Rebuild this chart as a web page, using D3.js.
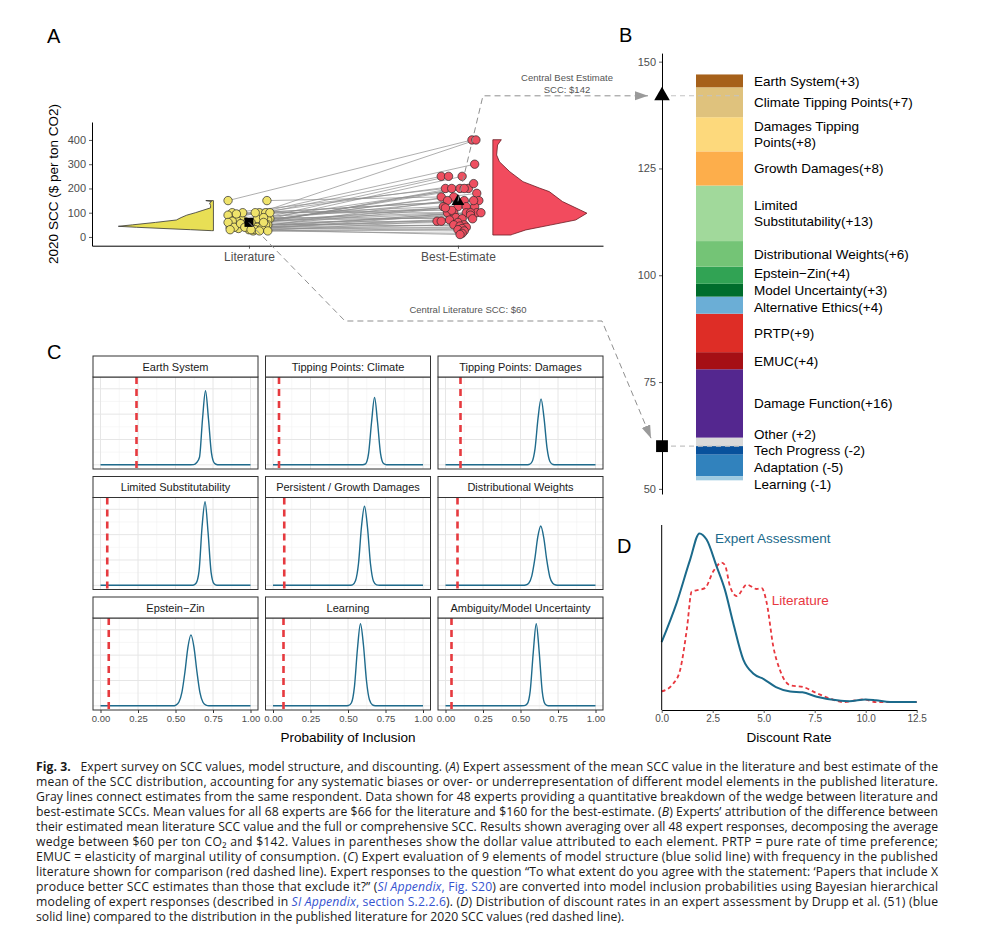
<!DOCTYPE html>
<html><head><meta charset="utf-8">
<script src="https://cdn.jsdelivr.net/npm/d3@7"></script>
<style>body{margin:0;background:#fff} svg{display:block}</style>
</head><body>
<svg id="fig" width="1002" height="940"></svg>
<script>
// ================= DATA =================
// Panel A: 48 experts, literature vs best-estimate SCC ($/tCO2)
const panelACategories = ["Literature", "Best-Estimate"];
const panelATicks = [0, 100, 200, 300, 400];
const litValues = [150,100,80,100,60,75,100,50,60,40,75,90,70,150,55,100,65,45,90,60,50,80,100,70,40,60,30,45,100,50,65,40,80,35,60,25,50,40,30,55,35,25,40,30,25,30,95,60];
const bestValues = [400,400,300,250,250,250,200,200,200,200,200,220,180,165,165,150,150,150,125,125,125,125,100,100,100,100,100,100,110,90,80,75,75,70,65,65,60,50,50,45,40,35,30,25,15,10,150,120];
const litJitter = [-0.10,0.05,-0.06,0.08,-0.03,0.10,-0.08,0.02,0.06,-0.09,0.04,-0.05,0.09,0.086,-0.07,0.03,-0.02,0.07,-0.10,0.01,0.08,-0.04,0.10,-0.06,0.05,-0.09,0.00,0.06,-0.03,0.09,-0.08,0.04,0.07,-0.05,-0.10,0.02,0.08,-0.07,0.03,-0.04,0.06,0.09,-0.02,-0.09,0.05,0.01,-0.06,0.07];
const bestJitter = [0.067,0.086,0.08,-0.08,-0.045,0.02,-0.06,-0.03,0.01,0.05,0.03,0.075,0.09,-0.08,-0.02,0.10,0.03,-0.05,-0.07,0.00,0.04,0.08,-0.05,-0.02,0.04,0.09,0.11,0.06,-0.03,0.06,-0.01,0.02,0.07,-0.04,-0.10,-0.08,0.00,0.03,-0.02,0.01,0.04,0.02,0.00,0.03,0.02,0.01,0.075,-0.06];
const panelAMeans = [60, 147];
const litViolinAt = [26,30,35,40,44,50,60,70,80,90,100,110,120,130,140,146,150];
const litViolinDensity = [0.02,0.24,0.53,0.81,1.0,0.85,0.61,0.39,0.34,0.28,0.19,0.11,0.03,0.03,0.04,0.02,0.08];
const bestViolinAt = [8,11,29,49,70,98,111,146,187,201,228,269,310,338,379,401];
const bestViolinDensity = [0.19,0.21,0.35,0.61,0.88,1.0,0.93,0.74,0.60,0.50,0.32,0.18,0.07,0.04,0.05,0.09];
const centralValues = [60, 142];

// Panel B: decomposition of the wedge (stacking order outward from $60)
const bLabels = ["Other (+2)","Damage Function(+16)","EMUC(+4)","PRTP(+9)","Alternative Ethics(+4)","Model Uncertainty(+3)","Epstein\u2212Zin(+4)","Distributional Weights(+6)","Limited\nSubstitutability(+13)","Growth Damages(+8)","Damages Tipping\nPoints(+8)","Climate Tipping Points(+7)","Earth System(+3)","Tech Progress (-2)","Adaptation (-5)","Learning (-1)"];
const bValues = [2,16,4,9,4,3,4,6,13,8,8,7,3,-2,-5,-1];
const bColors = ["#d9d9d9","#54278f","#a50f15","#de2d26","#6baed6","#006d2c","#31a354","#74c476","#a1d99b","#fdae4b","#fdd97c","#dfc27d","#a6611a","#08519c","#3182bd","#9ecae1"];
const bTicks = [50, 75, 100, 125, 150];

// Panel C: model inclusion probabilities
const cPanels = ["Earth System","Tipping Points: Climate","Tipping Points: Damages","Limited Substitutability","Persistent / Growth Damages","Distributional Weights","Epstein\u2212Zin","Learning","Ambiguity/Model Uncertainty"];
const cLiterature = [0.24,0.04,0.10,0.045,0.075,0.08,0.055,0.07,0.04];
const cPeakAt = [0.700,0.677,0.637,0.697,0.610,0.635,0.603,0.583,0.605];
const cOffsets = [-0.12,-0.10,-0.08,-0.06,-0.04,-0.02,0,0.02,0.04,0.06,0.08,0.10,0.12];
const cDensity = [
  [0,0,0.03,0.4,1.5,9.0,14.6,9.0,2.3,0.3,0.02,0,0],
  [0,0,0.01,0.2,2.2,8.4,13.3,8.4,2.2,0.25,0.01,0,0],
  [0,0,0.05,0.6,3.2,9.2,13.0,9.2,3.3,0.6,0.06,0,0],
  [0,0,0.02,0.4,2.8,11.5,16.5,10.5,2.6,0.3,0.02,0,0],
  [0,0,0.1,0.9,4.3,11.6,15.6,11.4,4.2,0.8,0.08,0,0],
  [0,0.07,0.4,1.8,5.1,9.5,11.7,9.4,5.0,1.7,0.4,0.06,0],
  [0,0.15,0.75,2.7,6.7,11.6,14.0,11.6,6.7,2.6,0.7,0.13,0.01],
  [0,0,0.05,0.6,3.8,11.2,16.2,12.0,5.0,1.2,0.2,0.02,0],
  [0,0,0.03,0.4,3.0,10.5,16.2,10.5,2.8,0.3,0.02,0,0]
];
const cTicks = [0, 0.25, 0.5, 0.75, 1];

// Panel D: discount-rate distributions
const dExpertRate = [0,0.73,1.39,1.85,2.2,2.7,3.1,3.5,4.0,4.5,5.0,5.6,6.3,6.9,7.6,8.6,9.2,10.0,10.5,11.2,12.5];
const dExpertDensity = [0.077,0.121,0.170,0.200,0.193,0.162,0.136,0.099,0.057,0.041,0.035,0.026,0.021,0.020,0.015,0.011,0.010,0.012,0.011,0.009,0.009];
const dLitRate = [0,0.57,0.9,1.23,1.47,1.8,2.12,2.53,2.94,3.1,3.35,3.68,4.17,4.66,4.9,5.15,5.47,5.8,6.3,6.94,7.6,8.25,8.9,9.9,10.5,12.5];
const dLitDensity = [0.021,0.030,0.045,0.091,0.134,0.136,0.138,0.157,0.167,0.164,0.140,0.129,0.142,0.137,0.138,0.121,0.072,0.045,0.028,0.026,0.019,0.013,0.009,0.012,0.009,0.009];
const dTicks = [0, 2.5, 5, 7.5, 10, 12.5];
const dSeriesNames = ["Expert Assessment", "Literature"];

// Caption
const captionLines = [
  [["Fig. 3.","b"],["   Expert survey on SCC values, model structure, and discounting. (",""],["A","i"],[") Expert assessment of the mean SCC value in the literature and best estimate of the",""]],
  [["mean of the SCC distribution, accounting for any systematic biases or over- or underrepresentation of different model elements in the published literature.",""]],
  [["Gray lines connect estimates from the same respondent. Data shown for 48 experts providing a quantitative breakdown of the wedge between literature and",""]],
  [["best-estimate SCCs. Mean values for all 68 experts are $66 for the literature and $160 for the best-estimate. (",""],["B","i"],[") Experts\u2019 attribution of the difference between",""]],
  [["their estimated mean literature SCC value and the full or comprehensive SCC. Results shown averaging over all 48 expert responses, decomposing the average",""]],
  [["wedge between $60 per ton CO\u2082 and $142. Values in parentheses show the dollar value attributed to each element. PRTP = pure rate of time preference;",""]],
  [["EMUC = elasticity of marginal utility of consumption. (",""],["C","i"],[") Expert evaluation of 9 elements of model structure (blue solid line) with frequency in the published",""]],
  [["literature shown for comparison (red dashed line). Expert responses to the question \u201CTo what extent do you agree with the statement: \u2018Papers that include X",""]],
  [["produce better SCC estimates than those that exclude it?\u201D (",""],["SI Appendix","linki"],[", Fig. S20","link"],[") are converted into model inclusion probabilities using Bayesian hierarchical",""]],
  [["modeling of expert responses (described in ",""],["SI Appendix","linki"],[", section S.2.2.6","link"],["). (",""],["D","i"],[") Distribution of discount rates in an expert assessment by Drupp et al. (51) (blue",""]],
  [["solid line) compared to the distribution in the published literature for 2020 SCC values (red dashed line).",""]]
];

// ================= DRAWING =================
const FONT = "'Liberation Sans', Arial, Helvetica, sans-serif";
const svg = d3.select("#fig").style("font-family", FONT);
const GRAYTXT = "#4d4d4d";

function styleAxis(g, fs) {
  g.select(".domain").attr("stroke", "#000").attr("stroke-width", 1);
  g.selectAll(".tick line").attr("stroke", "#333").attr("stroke-width", 0.8);
  g.selectAll(".tick text").attr("fill", GRAYTXT).style("font-size", fs + "px").style("font-family", FONT);
}

// arrow marker
svg.append("defs").append("marker")
  .attr("id", "arr").attr("markerUnits", "userSpaceOnUse")
  .attr("markerWidth", 14).attr("markerHeight", 10)
  .attr("refX", 13).attr("refY", 4.5).attr("orient", "auto")
  .append("path").attr("d", "M0,0 L13,4.5 L0,9 Z").attr("fill", "#9a9a9a");

// Panel letters
[["A",47,43],["B",619,42],["C",47,359],["D",617,553]].forEach(([t,x,y]) =>
  svg.append("text").attr("x", x).attr("y", y).text(t).style("font-size", "20px").attr("fill", "#000"));

// ---------- Panel A ----------
const xA = d3.scaleLinear().domain([0.249, 2.694]).range([92, 603]);
const yA = d3.scaleLinear().domain([-36, 474]).range([245.7, 122]);
const gA = svg.append("g");

const violinLine = d3.line().x(p => xA(p[0])).y(p => yA(p[1]));
function violinPath(at, dens, flat, maxW, dir) {
  const pts = [[flat, at[at.length - 1]], [flat, at[0]]];
  at.forEach((v, i) => pts.push([flat + dir * maxW * dens[i], v]));
  pts.push([flat, at[at.length - 1]]);
  return violinLine(pts) + "Z";
}
gA.append("path").attr("d", violinPath(litViolinAt, litViolinDensity, 0.83, 0.455, -1))
  .attr("fill", "#e8df55").attr("stroke", "#333").attr("stroke-width", 0.8);
gA.append("path").attr("d", violinPath(bestViolinAt, bestViolinDensity, 2.167, 0.45, 1))
  .attr("fill", "#f24b5e").attr("stroke", "#6b1a22").attr("stroke-width", 0.8);

litValues.forEach((v, i) => {
  gA.append("line")
    .attr("x1", xA(1 + litJitter[i])).attr("y1", yA(v))
    .attr("x2", xA(2 + bestJitter[i])).attr("y2", yA(bestValues[i]))
    .attr("stroke", "#8c8c8c").attr("stroke-width", 0.7);
});
litValues.forEach((v, i) => gA.append("circle").attr("cx", xA(1 + litJitter[i])).attr("cy", yA(v)).attr("r", 4.2)
  .attr("fill", "#efe36b").attr("stroke", "#2a2a2a").attr("stroke-width", 0.7));
bestValues.forEach((v, i) => gA.append("circle").attr("cx", xA(2 + bestJitter[i])).attr("cy", yA(v)).attr("r", 4.2)
  .attr("fill", "#ee4f60").attr("stroke", "#2a2a2a").attr("stroke-width", 0.7));

gA.append("path").attr("d", d3.symbol(d3.symbolSquare, 80)())
  .attr("transform", `translate(${xA(1)},${yA(panelAMeans[0])})`).attr("fill", "#000");
gA.append("path").attr("d", d3.symbol(d3.symbolTriangle, 70)())
  .attr("transform", `translate(${xA(2)},${yA(panelAMeans[1])})`).attr("fill", "#000");

const axAy = gA.append("g").attr("transform", "translate(92,0)")
  .call(d3.axisLeft(yA).tickValues(panelATicks).tickSize(3).tickSizeOuter(0).tickPadding(3));
styleAxis(axAy, 11);
const axAx = gA.append("g").attr("transform", "translate(0,245.7)")
  .call(d3.axisBottom(xA).tickValues([1, 2]).tickFormat((d, i) => panelACategories[i]).tickSize(3).tickSizeOuter(0).tickPadding(4));
styleAxis(axAx, 12);
gA.append("text").attr("transform", "translate(58,184) rotate(-90)").attr("text-anchor", "middle")
  .style("font-size", "13.5px").attr("fill", "#000").text("2020 SCC ($ per ton CO2)");

// ---------- Panel B ----------
const yB = d3.scaleLinear().domain([48.8, 152]).range([494, 53.1]);
const gB = svg.append("g");
let pos = 60, neg = 60;
const segs = bValues.map((v, i) => {
  let lo, hi;
  if (v >= 0) { lo = pos; hi = pos + v; pos = hi; } else { hi = neg; lo = neg + v; neg = lo; }
  return { lo, hi, label: bLabels[i], color: bColors[i] };
});
gB.selectAll("rect.seg").data(segs).enter().append("rect")
  .attr("x", 696).attr("width", 47)
  .attr("y", d => yB(d.hi)).attr("height", d => yB(d.lo) - yB(d.hi))
  .attr("fill", d => d.color);

const axB = gB.append("g").attr("transform", "translate(662,0)")
  .call(d3.axisLeft(yB).tickValues(bTicks).tickSize(3).tickSizeOuter(0).tickPadding(3));
styleAxis(axB, 11);

centralValues.forEach(v => gB.append("line").attr("x1", 662).attr("x2", 743)
  .attr("y1", yB(v)).attr("y2", yB(v)).attr("stroke", "#c4c4c4").attr("stroke-width", 1.1).attr("stroke-dasharray", "5,4"));
gB.append("path").attr("d", d3.symbol(d3.symbolTriangle, 105)())
  .attr("transform", `translate(662,${yB(centralValues[1])})`).attr("fill", "#000");
gB.append("path").attr("d", d3.symbol(d3.symbolSquare, 140)())
  .attr("transform", `translate(662,${yB(centralValues[0])})`).attr("fill", "#000");

// labels with simple repel
const LH = 15.5;
const labs = segs.map(s => {
  const lines = s.label.split("\n");
  return { lines, y: yB((s.lo + s.hi) / 2), half: lines.length === 1 ? 8.3 : 15.8 };
}).sort((a, b) => a.y - b.y);
for (let it = 0; it < 300; it++) {
  for (let i = 1; i < labs.length; i++) {
    const need = labs[i - 1].half + labs[i].half;
    const gap = labs[i].y - labs[i - 1].y;
    if (gap < need) { const s = (need - gap) / 2; labs[i - 1].y -= s; labs[i].y += s; }
  }
}
labs.forEach(l => {
  const t = gB.append("text").attr("x", 754).style("font-size", "13.5px").attr("fill", "#000");
  const y0 = l.y - (l.lines.length - 1) * LH / 2 + 4.8;
  l.lines.forEach((ln, k) => t.append("tspan").attr("x", 754).attr("y", y0 + k * LH).text(ln));
});

// ---------- Connectors between A and B ----------
const gConn = svg.append("g");
const dashStyle = sel => sel.attr("fill", "none").attr("stroke", "#8f8f8f").attr("stroke-width", 1).attr("stroke-dasharray", "6,4");
gConn.append("path").call(dashStyle).attr("marker-end", "url(#arr)")
  .attr("d", `M${xA(2)},${yA(panelAMeans[1])} L${xA(2) + 25},${yB(centralValues[1])} L648,${yB(centralValues[1])}`);
gConn.append("path").call(dashStyle).attr("marker-end", "url(#arr)")
  .attr("d", `M${xA(1)},${yA(panelAMeans[0])} L345,321 L602,321 L651,${yB(centralValues[0]) - 8}`);
const annot = (t, x, y) => gConn.append("text").attr("x", x).attr("y", y).attr("text-anchor", "middle")
  .style("font-size", "9.5px").attr("fill", "#555").text(t);
annot("Central Best Estimate", 567, 81);
annot("SCC: $" + centralValues[1], 567, 93);
annot("Central Literature SCC: $" + centralValues[0], 468, 313);

// ---------- Panel C ----------
const gC = svg.append("g");
const colX = [93, 265.5, 438], rowY = [356, 476.5, 597];
const PW = 165, SH = 21, PH = 92;
const cLine = d3.line().curve(d3.curveMonotoneX);
cPanels.forEach((name, k) => {
  const r = Math.floor(k / 3), c = k % 3;
  const x0 = colX[c], top = rowY[r], pTop = top + SH, pBot = pTop + PH;
  const xs = d3.scaleLinear().domain([-0.05, 1.05]).range([x0, x0 + PW]);
  const ys = d3.scaleLinear().domain([-0.825, 17.325]).range([pBot, pTop]);
  const g = gC.append("g");
  g.append("rect").attr("x", x0).attr("y", pTop).attr("width", PW).attr("height", PH).attr("fill", "#fff");
  // minor grid
  [0.125, 0.375, 0.625, 0.875].forEach(v => g.append("line").attr("x1", xs(v)).attr("x2", xs(v)).attr("y1", pTop).attr("y2", pBot).attr("stroke", "#f2f2f2").attr("stroke-width", 0.6));
  [2.5, 7.5, 12.5].forEach(v => g.append("line").attr("x1", x0).attr("x2", x0 + PW).attr("y1", ys(v)).attr("y2", ys(v)).attr("stroke", "#f2f2f2").attr("stroke-width", 0.6));
  // major grid
  cTicks.forEach(v => g.append("line").attr("x1", xs(v)).attr("x2", xs(v)).attr("y1", pTop).attr("y2", pBot).attr("stroke", "#e6e6e6").attr("stroke-width", 1));
  [0, 5, 10, 15].forEach(v => g.append("line").attr("x1", x0).attr("x2", x0 + PW).attr("y1", ys(v)).attr("y2", ys(v)).attr("stroke", "#e6e6e6").attr("stroke-width", 1));
  // density curve
  const pts = [[0, 0]].concat(cOffsets.map((o, i) => [cPeakAt[k] + o, cDensity[k][i]])).concat([[1, 0]]);
  g.append("path").attr("d", cLine(pts.map(p => [xs(p[0]), ys(p[1])])))
    .attr("fill", "none").attr("stroke", "#1f6b8c").attr("stroke-width", 1.4);
  // literature line
  g.append("line").attr("x1", xs(cLiterature[k])).attr("x2", xs(cLiterature[k])).attr("y1", pTop).attr("y2", pBot)
    .attr("stroke", "#e63a3f").attr("stroke-width", 2.6).attr("stroke-dasharray", "7,5");
  // border
  g.append("rect").attr("x", x0).attr("y", pTop).attr("width", PW).attr("height", PH).attr("fill", "none").attr("stroke", "#333").attr("stroke-width", 1);
  // strip
  g.append("rect").attr("x", x0).attr("y", top).attr("width", PW).attr("height", SH).attr("fill", "#fff").attr("stroke", "#333").attr("stroke-width", 1);
  g.append("text").attr("x", x0 + PW / 2).attr("y", top + 14.7).attr("text-anchor", "middle")
    .style("font-size", "11px").attr("fill", "#1a1a1a").text(name);
  if (r === 2) {
    const ax = g.append("g").attr("transform", `translate(0,${pBot})`)
      .call(d3.axisBottom(xs).tickValues(cTicks).tickFormat(d3.format(".2f")).tickSize(3).tickSizeOuter(0).tickPadding(2));
    ax.select(".domain").remove();
    ax.selectAll(".tick line").attr("stroke", "#333");
    ax.selectAll(".tick text").attr("fill", GRAYTXT).style("font-size", "9.5px").style("font-family", FONT);
  }
});
gC.append("text").attr("x", 348).attr("y", 742).attr("text-anchor", "middle").style("font-size", "13.5px").attr("fill", "#000").text("Probability of Inclusion");

// ---------- Panel D ----------
const xD = d3.scaleLinear().domain([0, 12.5]).range([661.7, 916.7]);
const yD = d3.scaleLinear().domain([0, 0.2095]).range([710, 525]);
const gD = svg.append("g");
const dLine = d3.line().curve(d3.curveMonotoneX).x(d => xD(d[0])).y(d => yD(d[1]));
gD.append("path").attr("d", dLine(dLitRate.map((r, i) => [r, dLitDensity[i]])))
  .attr("fill", "none").attr("stroke", "#e8383f").attr("stroke-width", 1.8).attr("stroke-dasharray", "4,3");
gD.append("path").attr("d", dLine(dExpertRate.map((r, i) => [r, dExpertDensity[i]])))
  .attr("fill", "none").attr("stroke", "#1b6a8b").attr("stroke-width", 2);
gD.append("line").attr("x1", 661.7).attr("x2", 661.7).attr("y1", 525).attr("y2", 710).attr("stroke", "#000").attr("stroke-width", 1);
const axD = gD.append("g").attr("transform", "translate(0,710)")
  .call(d3.axisBottom(xD).tickValues(dTicks).tickFormat(d3.format(".1f")).tickSize(3).tickSizeOuter(0).tickPadding(2));
styleAxis(axD, 10);
gD.append("text").attr("x", xD(2.61)).attr("y", yD(0.195) + 5).style("font-size", "13.5px").attr("fill", "#1b6a8b").text(dSeriesNames[0]);
gD.append("text").attr("x", xD(5.39)).attr("y", yD(0.125) + 5).style("font-size", "13.5px").attr("fill", "#e8383f").text(dSeriesNames[1]);
gD.append("text").attr("x", 789).attr("y", 742).attr("text-anchor", "middle").style("font-size", "13.5px").attr("fill", "#000").text("Discount Rate");

// ---------- Caption ----------
const gCap = svg.append("g").style("font-family", "'Open Sans', 'Noto Sans', sans-serif").style("font-size", "12.2px");
captionLines.forEach((segsL, i) => {
  const t = gCap.append("text").attr("x", 36).attr("y", 771 + i * 15).attr("fill", "#1a1a1a").style("white-space", "pre");
  segsL.forEach(([txt, st]) => {
    const sp = t.append("tspan").text(txt);
    if (st === "b") sp.style("font-weight", "700");
    if (st === "i") sp.style("font-style", "italic");
    if (st === "link") sp.attr("fill", "#3553d0");
    if (st === "linki") sp.attr("fill", "#3553d0").style("font-style", "italic");
  });
  if (i < captionLines.length - 1) t.attr("textLength", 902).attr("lengthAdjust", "spacing");
});
</script>
</body></html>
